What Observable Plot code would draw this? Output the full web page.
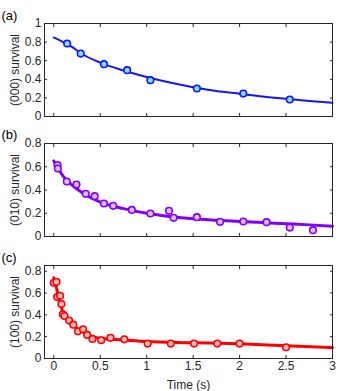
<!DOCTYPE html>
<html>
<head>
<meta charset="utf-8">
<script src="https://cdn.jsdelivr.net/npm/d3@7"></script>
<script src="https://cdn.jsdelivr.net/npm/@observablehq/plot@0.6"></script>
<style>
  html, body { margin: 0; padding: 0; background: #fff; }
  #chart { width: 339px; height: 391px; }
  #chart svg { display: block; }
</style>
</head>
<body>
<div id="chart"></div>
<script>
// ---- Data ----
const xTicks = [0, 0.5, 1, 1.5, 2, 2.5, 3];
const yTicksA = [0, 0.2, 0.4, 0.6, 0.8, 1];
const yTicksBC = [0, 0.2, 0.4, 0.6, 0.8];

const panelLabels = ["(a)", "(b)", "(c)"];
const yLabels = ["(000) survival", "(010) survival", "(100) survival"];
const xLabel = "Time (s)";

// Panel (a) measurements
const tA = [0.144, 0.29, 0.54, 0.79, 1.04, 1.54, 2.04, 2.54];
const vA = [0.785, 0.677, 0.563, 0.498, 0.391, 0.301, 0.247, 0.183];
// Panel (a) fit curve
const fitTA = [0, 0.1, 0.2, 0.3, 0.5, 0.75, 1, 1.25, 1.5, 1.75, 2, 2.25, 2.5, 2.75, 3];
const fitVA = [0.85, 0.80, 0.745, 0.675, 0.58, 0.495, 0.425, 0.365, 0.315, 0.275, 0.245, 0.215, 0.19, 0.167, 0.147];

// Panel (b)
const tB = [0.04, 0.043, 0.14, 0.244, 0.344, 0.44, 0.54, 0.64, 0.84, 1.04, 1.24, 1.29, 1.54, 1.79, 2.04, 2.29, 2.54, 2.79];
const vB = [0.614, 0.585, 0.473, 0.447, 0.367, 0.347, 0.284, 0.264, 0.229, 0.198, 0.221, 0.161, 0.166, 0.126, 0.129, 0.123, 0.077, 0.054];
const fitTB = [0, 0.05, 0.1, 0.2, 0.3, 0.5, 0.75, 1, 1.25, 1.5, 1.75, 2, 2.25, 2.5, 2.75, 3];
const fitVB = [0.65, 0.58, 0.52, 0.44, 0.38, 0.295, 0.24, 0.2, 0.172, 0.152, 0.14, 0.13, 0.12, 0.11, 0.1, 0.089];

// Panel (c)
const tC = [0, 0.029, 0.036, 0.068, 0.082, 0.097, 0.115, 0.165, 0.21, 0.26, 0.315, 0.36, 0.416, 0.51, 0.61, 0.76, 1.01, 1.26, 1.51, 1.76, 2.0, 2.5];
const vC = [0.694, 0.703, 0.563, 0.575, 0.499, 0.405, 0.389, 0.347, 0.31, 0.249, 0.268, 0.216, 0.179, 0.167, 0.189, 0.176, 0.137, 0.137, 0.137, 0.137, 0.137, 0.103];
const fitTC = [0, 0.025, 0.05, 0.075, 0.1, 0.15, 0.2, 0.3, 0.4, 0.5, 0.75, 1, 1.5, 2, 2.5, 3];
const fitVC = [0.74, 0.66, 0.57, 0.49, 0.42, 0.35, 0.31, 0.25, 0.205, 0.185, 0.17, 0.155, 0.145, 0.135, 0.117, 0.10];

const colors = {
  a: { line: "#1414ff", fill: "#7fdfff" },
  b: { line: "#8000ff", fill: "#dcbcff" },
  c: { line: "#ff0000", fill: "#ffbcbc" }
};

const zip = (xs, ys) => xs.map((x, i) => ({ x, y: ys[i] }));
const ink = "#262626";
const font = "Liberation Sans, Arial, Helvetica, sans-serif";

function panel({ pts, fit, yDomain, yTicks, label, ylabel, col, lineW, height, mt, mb, showX, labelDy }) {
  return Plot.plot({
    width: 339,
    height,
    marginLeft: 44,
    marginRight: 7,
    marginTop: mt,
    marginBottom: mb,
    style: { fontFamily: font, fontSize: "12px", color: ink, background: "#fff", overflow: "visible" },
    x: { domain: [-0.1, 3] },
    y: { domain: yDomain },
    marks: [
      Plot.line(fit, { x: "x", y: "y", stroke: col.line, strokeWidth: lineW, curve: "monotone-x" }),
      Plot.dot(pts, { x: "x", y: "y", r: 3.3, fill: col.fill, stroke: col.line, strokeWidth: 1.6 }),
      Plot.frame({ stroke: ink, strokeWidth: 1 }),
      Plot.axisY(yTicks, {
        anchor: "left", tickSize: -3, tickPadding: 6, tickFormat: d => String(d),
        fill: ink, stroke: ink, fontSize: 12,
        label: ylabel, labelAnchor: "center", labelOffset: 34, labelArrow: "none"
      }),
      Plot.axisY(yTicks, { anchor: "right", tickSize: -3, tickFormat: () => "", stroke: ink, label: null }),
      Plot.axisX(xTicks, {
        anchor: "bottom", tickSize: -3, tickPadding: 6, tickFormat: showX ? (d => String(d)) : () => "",
        fill: ink, stroke: ink, fontSize: 12,
        label: showX ? xLabel : null, labelAnchor: "center", labelOffset: 30, labelArrow: "none"
      }),
      Plot.axisX(xTicks, { anchor: "top", tickSize: -3, tickFormat: () => "", stroke: ink, label: null }),
      Plot.text([label], { frameAnchor: "top-left", dx: -43, dy: labelDy, textAnchor: "start", fill: "#000", fontSize: 13, text: d => d })
    ]
  });
}

const chart = document.getElementById("chart");
chart.append(panel({
  pts: zip(tA, vA), fit: zip(fitTA, fitVA), yDomain: [0, 1], yTicks: yTicksA,
  label: panelLabels[0], ylabel: yLabels[0], col: colors.a, lineW: 2,
  height: 122, mt: 23, mb: 6, showX: false, labelDy: -13
}));
chart.append(panel({
  pts: zip(tB, vB), fit: zip(fitTB, fitVB), yDomain: [0, 0.8], yTicks: yTicksBC,
  label: panelLabels[1], ylabel: yLabels[1], col: colors.b, lineW: 3,
  height: 120, mt: 21, mb: 6, showX: false, labelDy: -14
}));
chart.append(panel({
  pts: zip(tC, vC), fit: zip(fitTC, fitVC), yDomain: [0, 0.852], yTicks: yTicksBC,
  label: panelLabels[2], ylabel: yLabels[2], col: colors.c, lineW: 3,
  height: 149, mt: 23, mb: 33, showX: true, labelDy: -13
}));
</script>
</body>
</html>
